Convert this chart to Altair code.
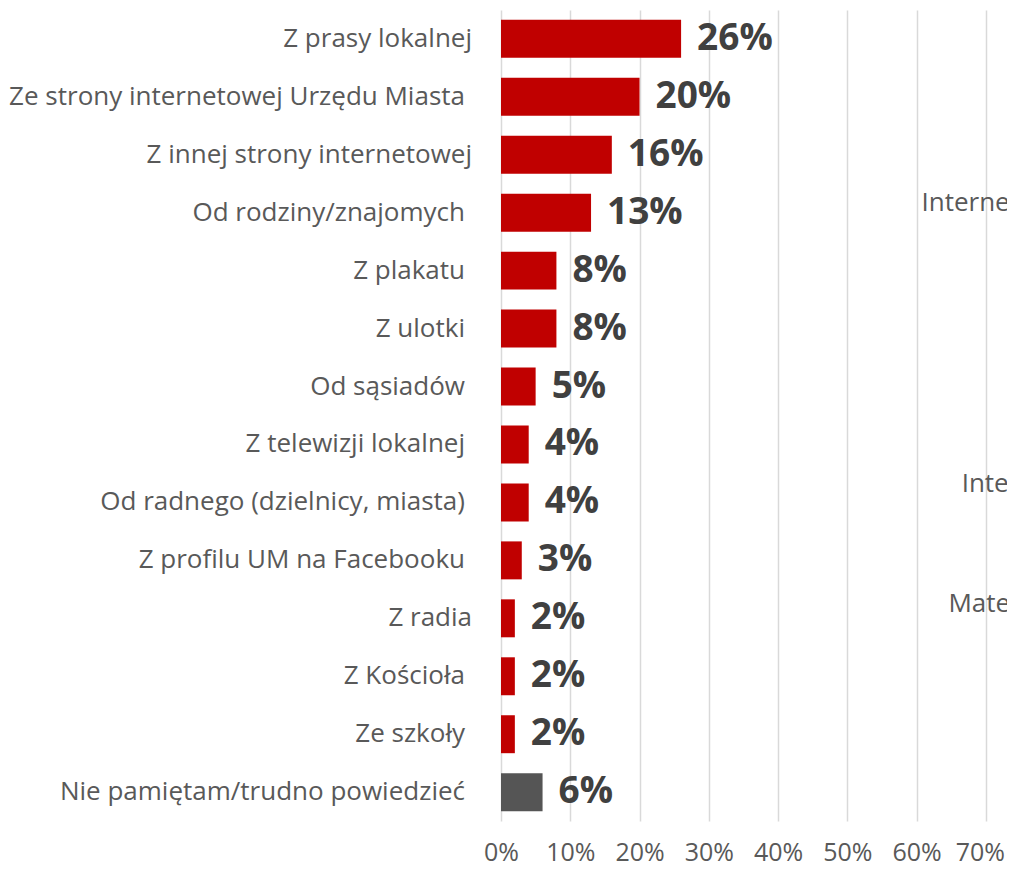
import altair as alt
import pandas as pd

categories = [
    "Z prasy lokalnej",
    "Ze strony internetowej Urzędu Miasta",
    "Z innej strony internetowej",
    "Od rodziny/znajomych",
    "Z plakatu",
    "Z ulotki",
    "Od sąsiadów",
    "Z telewizji lokalnej",
    "Od radnego (dzielnicy, miasta)",
    "Z profilu UM na Facebooku",
    "Z radia",
    "Z Kościoła",
    "Ze szkoły",
    "Nie pamiętam/trudno powiedzieć",
]
# the original category labels that end with a trailing space
trailing_space = [False, True, False, True, True, True, True,
                  True, True, True, False, True, True, True]
values = [26, 20, 16, 13, 8, 8, 5, 4, 4, 3, 2, 2, 2, 6]
groups = ["source"] * 13 + ["unknown"]
x_ticks = [0, 10, 20, 30, 40, 50, 60, 70]

# fragments of a neighbouring chart visible at the right edge
ghost_texts = ["Internet", "Inter", "Mater"]
ghost_x = [60.7, 66.5, 64.6]
ghost_rows = [categories[3], categories[8], categories[10]]
ghost_dy = [-10, -18, -14]

df = pd.DataFrame({
    "category": categories,
    "value": values,
    "group": groups,
    "trail": trailing_space,
    "label": [f"{v}%" for v in values],
})

FONT = "Open Sans"
GRAY_TEXT = "#595959"

y_enc = alt.Y(
    "category:N",
    sort=categories,
    title=None,
    scale=alt.Scale(paddingInner=0.345, paddingOuter=0.17),
    axis=alt.Axis(domain=False, ticks=False, grid=False, labels=False),
)
x_enc = alt.X(
    "value:Q",
    title=None,
    scale=alt.Scale(domain=[0, 73.05], nice=False, zero=True),
    axis=alt.Axis(
        values=x_ticks, labelExpr="datum.value + '%'",
        domain=False, ticks=False, grid=True, labelFlush=False,
        gridColor="#d9d9d9", gridWidth=1.5,
        labelFont=FONT, labelFontSize=25, labelColor=GRAY_TEXT,
        labelPadding=19,
        labelOffset={"condition": {"test": "datum.value === 70", "value": -6}, "value": 0},
    ),
)

base = alt.Chart(df)

bars = base.mark_bar().encode(
    x=x_enc,
    y=y_enc,
    color=alt.Color(
        "group:N",
        scale=alt.Scale(domain=["source", "unknown"], range=["#c00000", "#555555"]),
        legend=None,
    ),
)

value_labels = base.mark_text(
    align="left", baseline="middle", dx=16,
    font=FONT, fontWeight="bold", fontSize=37, color="#404040",
).encode(
    x="value:Q",
    y=alt.Y("category:N", sort=categories),
    text="label:N",
)

def category_labels(with_trail, dx):
    return base.transform_filter(
        alt.datum.trail if with_trail else ~alt.datum.trail
    ).mark_text(
        align="right", baseline="middle", dx=dx,
        font=FONT, fontSize=26, color=GRAY_TEXT,
    ).encode(
        x=alt.datum(0),
        y=alt.Y("category:N", sort=categories),
        text="category:N",
    )

layers = [bars, value_labels,
          category_labels(False, -29), category_labels(True, -36)]

for t, gx, row, dy in zip(ghost_texts, ghost_x, ghost_rows, ghost_dy):
    gdf = pd.DataFrame({"gx": [gx], "category": [row], "t": [t]})
    layers.append(
        alt.Chart(gdf).mark_text(
            align="left", baseline="middle", dy=dy, clip=True,
            font=FONT, fontSize=26, color=GRAY_TEXT,
        ).encode(
            x=alt.X("gx:Q"),
            y=alt.Y("category:N", sort=categories),
            text="t:N",
        )
    )

chart = alt.layer(*layers).properties(
    width=506,
    height=811,
    padding={"left": 493, "top": 2, "right": 0, "bottom": 47},
    autosize=alt.AutoSizeParams(type="none"),
).configure_view(stroke=None)

chart.save("out.html", embed_options={"renderer": "svg", "actions": False})
